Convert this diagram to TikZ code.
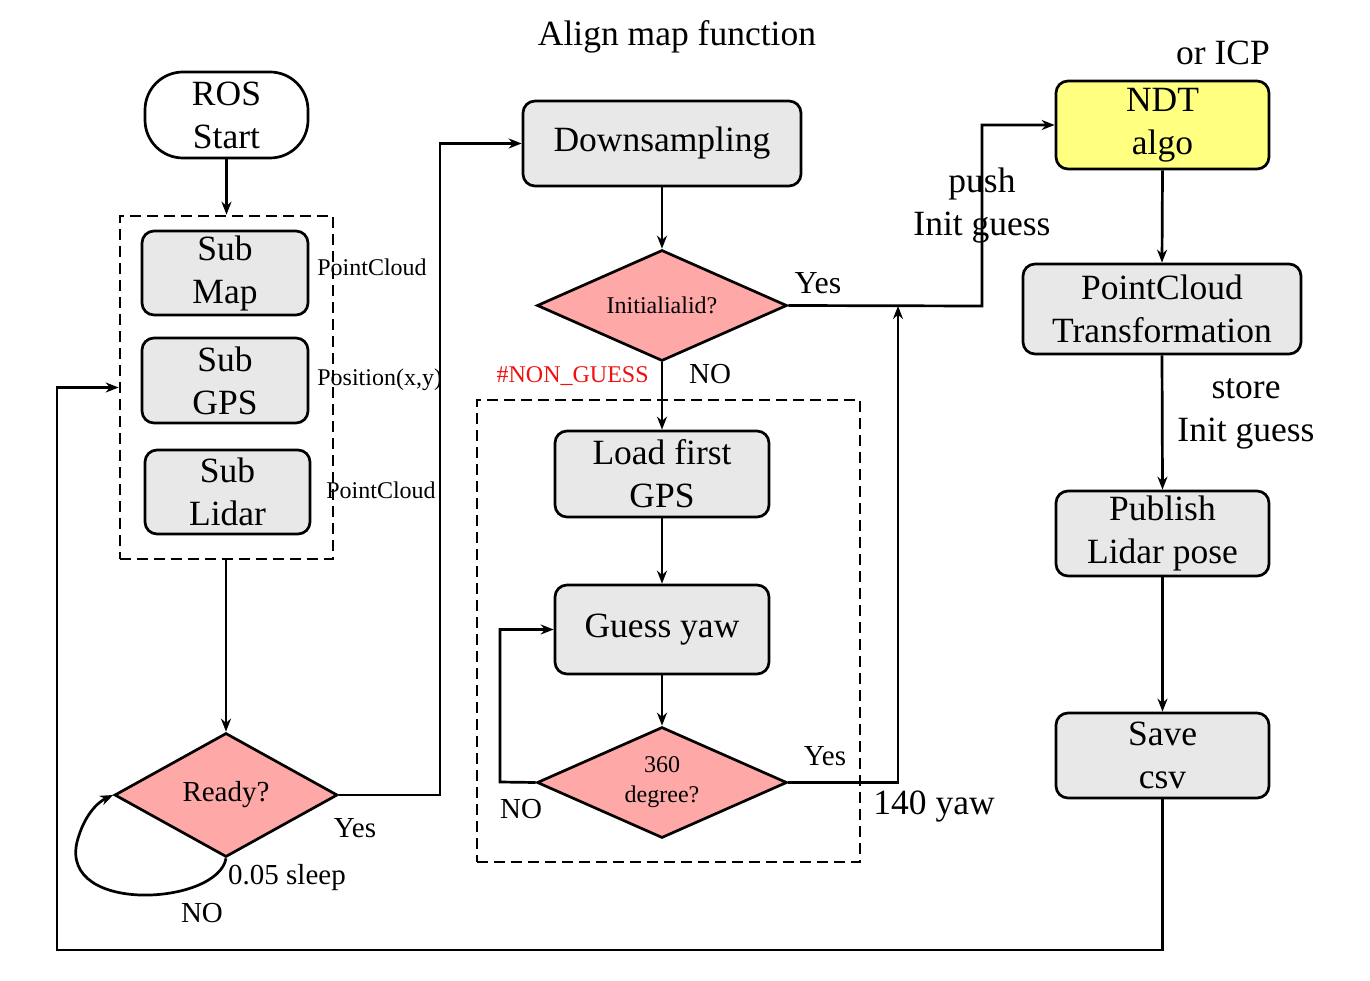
\documentclass[tikz,border=0pt]{standalone}
\usepackage{fontspec}
\setmainfont{Liberation Serif}
\usetikzlibrary{shapes.geometric,arrows.meta}
\definecolor{boxgray}{HTML}{E8E8E8}
\definecolor{decpink}{HTML}{FFA8A8}
\definecolor{ndtyellow}{HTML}{FFFF80}
\definecolor{labred}{HTML}{F01010}
\begin{document}
\begin{tikzpicture}[x=1pt,y=-1pt,
 line width=2.7pt,
 big/.style={font=\fontsize{35.5}{43}\selectfont},
 mid/.style={font=\fontsize{29}{34}\selectfont},
 small/.style={font=\fontsize{24}{30}\selectfont},
 proc/.style={draw,rounded corners=12pt,fill=boxgray,align=center,big,inner sep=0pt},
 dec/.style={draw,diamond,fill=decpink,inner sep=0pt,align=center},
 lab/.style={inner sep=0pt,align=center},
 arr/.style={-{Stealth[length=13pt,width=10pt]}},
 grp/.style={draw,dash pattern=on 11pt off 6pt,inner sep=0pt},
]
\useasboundingbox (0,0) rectangle (1370,981);
% groups
\node[grp,minimum width=213pt,minimum height=343pt] (g1) at (226.5,387.5) {};
\node[grp,minimum width=383pt,minimum height=462pt] (g2) at (668.5,631) {};
% nodes
\node[draw,rounded corners=38pt,fill=white,align=center,big,inner sep=0pt,minimum width=163pt,minimum height=86pt,text depth=-2pt] (ros) at (226.5,115) {ROS\\Start};
\node[proc,minimum width=166pt,minimum height=84pt] (submap) at (225,273) {Sub\\Map};
\node[proc,minimum width=166pt,minimum height=85pt] (subgps) at (225,380.5) {Sub\\GPS};
\node[proc,minimum width=165pt,minimum height=84pt] (sublidar) at (227.5,492) {Sub\\Lidar};
\node[dec,mid,aspect=1.8,minimum width=223pt,minimum height=124pt] (ready) at (226,795) {Ready?};
\node[proc,minimum width=278pt,minimum height=85pt] (down) at (662,143.5) {\raisebox{-4pt}{Downsampling}};
\node[dec,small,aspect=2.25,minimum width=250pt,minimum height=111pt] (init) at (662,305.5) {Initialialid?};
\node[proc,minimum width=214pt,minimum height=86pt] (load) at (662,474) {Load first\\GPS};
\node[proc,minimum width=214pt,minimum height=89pt] (guess) at (662,629.5) {\raisebox{-3pt}{Guess yaw}};
\node[dec,small,aspect=2.25,minimum width=250pt,minimum height=111pt] (deg) at (662,782.5) {360\\degree?};
\node[proc,fill=ndtyellow,minimum width=213pt,minimum height=88pt] (ndt) at (1162.5,125) {NDT\\algo};
\node[proc,minimum width=278pt,minimum height=90pt] (pct) at (1162,309) {PointCloud\\Transformation};
\node[proc,minimum width=213pt,minimum height=85pt] (pub) at (1162.5,533.5) {Publish\\Lidar pose};
\node[proc,minimum width=213pt,minimum height=85pt] (save) at (1162.5,755.5) {Save\\csv};
% coordinates
\coordinate (c1) at (440,795);
\coordinate (c2) at (982,306);
\coordinate (c3) at (898,306);
\coordinate (c4) at (500,782);
\coordinate (c5) at (57,950);
% connectors
\draw[arr] (ros.south) -- (g1.north);
\draw[arr] (ready.north |- g1.south) -- (ready.north);
\draw[arr] (ready.east) -- (c1) |- (down.west);
\draw[arr] (ready.south) .. controls (218,905) and (60,915) .. (77,842) .. controls (84,815) and (98,802) .. (ready.west);
\draw[arr] (down.south) -- (init.north);
\draw[arr] (init.east) -- (c2) |- (ndt.west);
\draw[arr] (init.south) -- (load.north);
\draw[arr] (load.south) -- (guess.north);
\draw[arr] (guess.south) -- (deg.north);
\draw[arr] (deg.west) -- (c4) |- (guess.west);
\draw[arr] (deg.east) -| (c3);
\draw[arr] (ndt.south) -- (pct.north);
\draw[arr] (pct.south) -- (pub.north);
\draw[arr] (pub.south) -- (save.north);
\draw[arr] (save.south) |- (c5) |- (g1.west);
% labels
\node[lab,small,anchor=west] (l1) at (316,267) {PointCloud};
\node[lab,small,anchor=west] (l2) at (316,380) {Position(x,y)};
\node[lab,small,anchor=west] (l3) at (325,490) {PointCloud};
\node[lab,mid] (l4) at (355,828) {Yes};
\node[lab,mid] (l5) at (287,878) {0.05 sleep};
\node[lab,mid] (l6) at (202,913) {NO};
\node[lab,big] (l7) at (677,37) {Align map function};
\node[lab,font=\fontsize{32}{38}\selectfont] (l8) at (818,283) {Yes};
\node[lab,small,anchor=east,text=labred] (l9) at (650,376) {\#NON\_GUESS};
\node[lab,mid] (l10) at (710,374) {NO};
\node[lab,big] (l11) at (982,206) {push\\Init guess};
\node[lab,big] (l12) at (1223,53) {or ICP};
\node[lab,big] (l13) at (1246,414) {store\\Init guess};
\node[lab,mid] (l14) at (825,756) {Yes};
\node[lab,mid] (l15) at (521,809) {NO};
\node[lab,big] (l16) at (934,807) {140 yaw};
\end{tikzpicture}
\end{document}
